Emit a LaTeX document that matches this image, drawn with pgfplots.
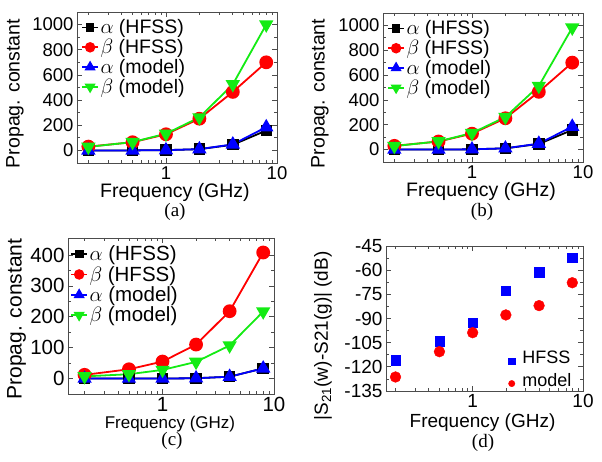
\documentclass[border=0pt]{standalone}
\usepackage{pgfplots}
\pgfplotsset{compat=1.18}
\usepackage{fontspec}
\setmainfont{Liberation Sans}
\newfontfamily\capfont{Liberation Serif}
\definecolor{cgreen}{RGB}{20,235,20}
\definecolor{cblue}{RGB}{0,0,255}
\definecolor{cred}{RGB}{255,0,0}
\newcommand{\fs}[1]{\fontsize{#1}{#1}\selectfont}
\pgfplotsset{
  panel/.style={
    scale only axis, xmax=10,
    xtick={1,10}, xticklabels={1,10},
    minor xtick={0.2,0.3,0.4,0.5,0.6,0.7,0.8,0.9,2,3,4,5,6,7,8,9},
    tick align=inside, major tick length=5pt, minor tick length=3pt,
    axis line style={line width=0.8pt, black!70},
    tick style={black!70, line width=0.7pt},
    /pgf/number format/assume math mode=true,
    clip=false,
  },
  lineplot/.style={line width=1.8pt},
  ser1/.style={lineplot, black, mark=square*, mark size=4.8pt, mark options={solid}},
  ser2/.style={lineplot, cred, mark=*, mark size=6pt, mark options={solid}},
  ser3/.style={lineplot, cblue, mark=triangle*, mark size=6.5pt, mark options={solid}},
  ser4/.style={lineplot, cgreen, mark=triangle*, mark size=6.5pt, mark options={solid, rotate=180}},
}
\pgfplotsset{
  linelegend/.style={legend cell align=left,
    legend style={draw=none, fill=none, anchor=north west, inner sep=0pt,
      row sep=1pt, nodes={inner sep=1.5pt}},
    legend image code/.code={\draw[##1, mark repeat=2, mark phase=2, every mark/.append style={scale=0.72}] plot coordinates {(0pt,0pt) (8pt,0pt) (16pt,0pt)};}},
}
\begin{document}
\begin{tikzpicture}
\path[use as bounding box] (0,0) rectangle (602pt,462pt);
% (a)
\begin{semilogxaxis}[panel, at={(77pt,299pt)}, anchor=south west, width=200pt, height=151pt,
  xmin=0.158, ymin=-100, ymax=1100,
  ytick={0,200,400,600,800,1000}, yticklabels={0,200,400,600,800,1000}, minor y tick num=1,
  ticklabel style={font=\fs{18.5}},
  xlabel={Frequency (GHz)}, ylabel={Propag. constant},
  label style={font=\fs{19.5}},
  xlabel style={at={(axis description cs:0.49,-0.192)}, anchor=center},
  ylabel style={at={(axis description cs:-0.31,0.46)}, anchor=center},
  linelegend, legend style={font=\fs{19.5}, at={(axis description cs:0.02,0.96)}}]
\addplot[ser1] coordinates {(0.2,0) (0.5,0) (1,2) (2,10) (4,45) (8,158)};
\addplot[ser2] coordinates {(0.2,30) (0.5,65) (1,128) (2,252) (4,465) (8,700)};
\addplot[ser3] coordinates {(0.2,0) (0.5,0) (1,2) (2,10) (4,48) (8,185)};
\addplot[ser4] coordinates {(0.2,28) (0.5,66) (1,133) (2,262) (4,525) (8,1000)};
\legend{$\alpha$ (HFSS),$\beta$ (HFSS),$\alpha$ (model),$\beta$ (model)}
\end{semilogxaxis}
\node[font=\capfont\fs{19}] at (175pt,250pt) {(a)};
% (b)
\begin{semilogxaxis}[panel, at={(383pt,300pt)}, anchor=south west, width=200pt, height=149pt,
  xmin=0.158, ymin=-100, ymax=1100,
  ytick={0,200,400,600,800,1000}, yticklabels={0,200,400,600,800,1000}, minor y tick num=1,
  ticklabel style={font=\fs{18.5}},
  xlabel={Frequency (GHz)}, ylabel={Propag. constant},
  label style={font=\fs{19.5}},
  xlabel style={at={(axis description cs:0.49,-0.2)}, anchor=center},
  ylabel style={at={(axis description cs:-0.315,0.46)}, anchor=center},
  linelegend, legend style={font=\fs{19.5}, at={(axis description cs:0.02,0.96)}}]
\addplot[ser1] coordinates {(0.2,0) (0.5,0) (1,2) (2,10) (4,45) (8,158)};
\addplot[ser2] coordinates {(0.2,30) (0.5,65) (1,128) (2,252) (4,465) (8,700)};
\addplot[ser3] coordinates {(0.2,0) (0.5,0) (1,2) (2,10) (4,48) (8,185)};
\addplot[ser4] coordinates {(0.2,28) (0.5,66) (1,133) (2,262) (4,512) (8,982)};
\legend{$\alpha$ (HFSS),$\beta$ (HFSS),$\alpha$ (model),$\beta$ (model)}
\end{semilogxaxis}
\node[font=\capfont\fs{19}] at (482pt,250pt) {(b)};
% (c)
\begin{semilogxaxis}[panel, at={(68pt,68pt)}, anchor=south west, width=206pt, height=156pt,
  xmin=0.142, ymin=-50, ymax=455,
  ytick={0,100,200,300,400}, yticklabels={0,100,200,300,400}, minor y tick num=1,
  ticklabel style={font=\fs{20.5}},
  xlabel={Frequency (GHz)}, ylabel={Propag. constant},
  xlabel style={font=\fs{17}, at={(axis description cs:0.495,-0.195)}, anchor=center},
  ylabel style={font=\fs{21}, at={(axis description cs:-0.25,0.48)}, anchor=center},
  linelegend, legend style={font=\fs{20.5}, at={(axis description cs:0.01,0.96)}}]
\addplot[ser1] coordinates {(0.2,0) (0.5,0) (1,0) (2,1) (4,6) (8,33)};
\addplot[ser2] coordinates {(0.2,12) (0.5,30) (1,55) (2,110) (4,218) (8,408)};
\addplot[ser3] coordinates {(0.2,0) (0.5,0) (1,0) (2,1) (4,6) (8,33)};
\addplot[ser4] coordinates {(0.2,7) (0.5,14) (1,28) (2,54) (4,107) (8,217)};
\legend{$\alpha$ (HFSS),$\beta$ (HFSS),$\alpha$ (model),$\beta$ (model)}
\end{semilogxaxis}
\node[font=\capfont\fs{19}] at (172pt,21pt) {(c)};
% (d)
\begin{semilogxaxis}[panel, at={(386pt,71pt)}, anchor=south west, width=197pt, height=145pt,
  xmin=0.164, ymin=-135, ymax=-45,
  ytick={-135,-120,-105,-90,-75,-60,-45}, yticklabels={-135,-120,-105,-90,-75,-60,-45}, minor y tick num=1,
  ticklabel style={font=\fs{19}},
  xlabel={Frequency (GHz)}, ylabel={|S\textsubscript{21}(w)-S21(g)| (dB)},
  label style={font=\fs{19}},
  xlabel style={at={(axis description cs:0.49,-0.22)}, anchor=center},
  ylabel style={at={(axis description cs:-0.32,0.38)}, anchor=center},
  legend cell align=left,
  legend style={draw=none, fill=none, anchor=south east, at={(axis description cs:0.95,0.01)},
    inner sep=0pt, font=\fs{18}, row sep=5pt, column sep=6pt, nodes={inner sep=1.5pt}},
  legend image code/.code={\draw[#1, mark size=3.2pt] plot coordinates {(0pt,-3pt)};}]
\addplot[only marks, cblue, mark=square*, mark size=4.7pt] coordinates {(0.2,-116) (0.5,-104) (1,-92.5) (2,-72.7) (4,-61.3) (8,-52.3)};
\addplot[only marks, cred, mark=*, mark size=5.4pt] coordinates {(0.2,-126.3) (0.5,-110.6) (1,-98.8) (2,-87.8) (4,-82) (8,-67.8)};
\legend{HFSS,model}
\end{semilogxaxis}
\node[font=\capfont\fs{19}] at (483pt,19pt) {(d)};
\end{tikzpicture}
\end{document}
